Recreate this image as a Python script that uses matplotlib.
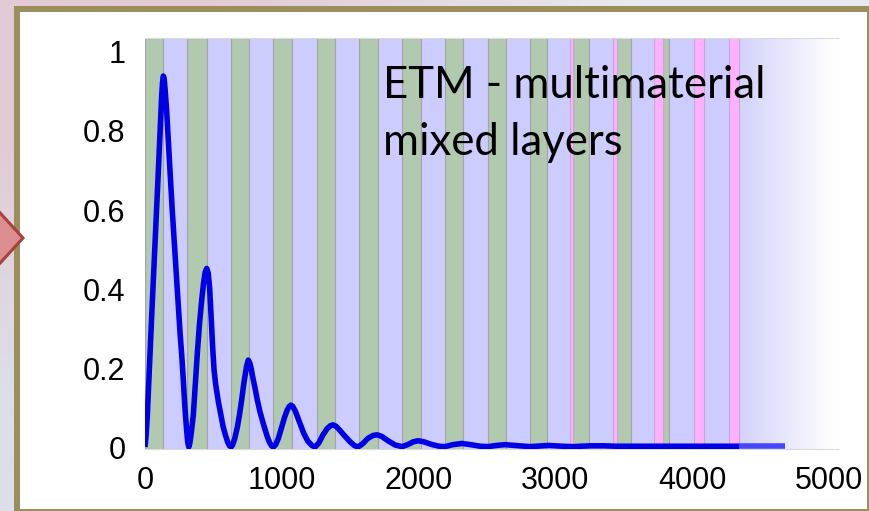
import numpy as np
import matplotlib
matplotlib.use("Agg")
import matplotlib.pyplot as plt
from matplotlib.patches import Rectangle, Polygon
from matplotlib.colors import LinearSegmentedColormap, to_rgb

# ---- data ----
# layer boundaries (thickness axis)
green_start = [0, 307, 629, 936, 1257, 1564, 1879, 2193, 2507, 2814, 3129, 3450, 3786]
green_end = [132, 453, 760, 1075, 1389, 1703, 2018, 2325, 2639, 2939, 3246, 3553, 3830]
pink_start = [3107, 3421, 3721, 4013, 4269]
pink_end = [3129, 3450, 3786, 4086, 4342]
stack_end = 4342

# field intensity along the stack
pos = [0, 8, 17, 27, 37, 50, 62, 73, 85, 95, 105, 115, 122, 128, 134, 140, 147,
       158, 168, 178, 190, 200, 210, 219, 232, 244, 256, 268, 280, 290, 297,
       305, 312, 320,
       328, 338, 353, 368, 383, 398, 414, 428, 440, 451, 462, 472, 482, 495,
       505, 516, 536, 555, 572, 590, 605, 618, 629,
       640, 655, 675, 690, 707, 720, 731, 743, 755, 767, 777, 787, 805, 821,
       840, 860, 877, 895, 910, 925, 938,
       955, 975, 999, 1020, 1040, 1055, 1067, 1080, 1100, 1133, 1160, 1190,
       1220, 1243,
       1270, 1300, 1330, 1355, 1374, 1395, 1420, 1460, 1500, 1530, 1557,
       1590, 1630, 1665, 1696, 1730, 1780, 1830, 1879,
       1920, 1960, 1996, 2040, 2100, 2150, 2193,
       2250, 2317, 2380, 2450, 2507,
       2570, 2632, 2700, 2814,
       2900, 2950, 3050, 3129, 3250, 3350, 3450, 3600, 4000, 4342, 4678]
intensity = [0.0, 0.03, 0.08, 0.16, 0.24, 0.34, 0.43, 0.51, 0.60, 0.68, 0.76,
             0.84, 0.89, 0.922, 0.939, 0.932, 0.905,
             0.853, 0.79, 0.727, 0.655, 0.595, 0.54, 0.49, 0.42, 0.35, 0.29,
             0.235, 0.17, 0.11, 0.075, 0.04, 0.013, 0.0,
             0.01, 0.035, 0.08, 0.16, 0.24, 0.31, 0.37, 0.415, 0.443, 0.452,
             0.44, 0.405, 0.34, 0.25, 0.195, 0.16, 0.115, 0.08, 0.05, 0.028,
             0.012, 0.003, 0.0,
             0.005, 0.02, 0.05, 0.08, 0.12, 0.155, 0.18, 0.205, 0.22, 0.212,
             0.197, 0.178, 0.148, 0.119, 0.09, 0.065, 0.045, 0.025, 0.012,
             0.003, 0.0,
             0.006, 0.022, 0.05, 0.075, 0.094, 0.103, 0.106, 0.103, 0.09, 0.06,
             0.035, 0.015, 0.004, 0.0,
             0.01, 0.03, 0.046, 0.054, 0.056, 0.053, 0.044, 0.028, 0.013, 0.004,
             0.0,
             0.008, 0.022, 0.029, 0.031, 0.027, 0.015, 0.005, 0.001,
             0.006, 0.013, 0.016, 0.013, 0.006, 0.002, 0.001,
             0.006, 0.009, 0.006, 0.002, 0.001,
             0.004, 0.006, 0.004, 0.001,
             0.003, 0.004, 0.002, 0.001, 0.003, 0.003, 0.002, 0.002, 0.002,
             0.002, 0.002]

xticks = [0, 1000, 2000, 3000, 4000, 5000]
yticks = [0, 0.2, 0.4, 0.6, 0.8, 1]
yticklabels = ["0", "0.2", "0.4", "0.6", "0.8", "1"]

fig = plt.figure(figsize=(8.69, 5.11), dpi=100)

# ---- slide background, frame and arrow (pixel coordinates) ----
bg = fig.add_axes([0, 0, 1, 1])
bg.set_xlim(0, 869)
bg.set_ylim(511, 0)
bg.axis("off")
corners = np.array([[to_rgb("#E2CBD5"), to_rgb("#E8EAF2")],
                    [to_rgb("#DCDEE8"), to_rgb("#E8EAF2")]])
bg.imshow(corners, extent=[0, 869, 511, 0], interpolation="bilinear",
          aspect="auto", zorder=0)
bg.add_patch(Rectangle((17, 9), 870 - 17, 512 - 9, facecolor="white",
                       edgecolor="#9B8D5C", lw=4.3, zorder=1))
bg.add_patch(Polygon([(-40, 169), (23, 238), (-40, 307)], closed=True,
                     facecolor="#DA8E90", edgecolor="#A9423F", lw=2.2, zorder=2))

# ---- chart ----
ax = fig.add_axes([145 / 869, (511 - 449) / 511, (838 - 145) / 869, (449 - 38) / 511])
ax.set_facecolor("none")

ymin, ymax = -0.005, 1.0354
ax.axvspan(0, stack_end, color="#CCCCFF", lw=0, zorder=0)
fade = LinearSegmentedColormap.from_list("fade", ["#D2D2FB", "#FFFFFF"])
ax.imshow(np.linspace(0, 1, 256)[None, :], cmap=fade, aspect="auto",
          extent=[stack_end, 5040, ymin, ymax], zorder=0)

for s, e in zip(green_start, green_end):
    ax.axvspan(s, e, facecolor="#B0C9AF", edgecolor="#A3A3A8", lw=0.8, zorder=1)
for s, e in zip(pink_start, pink_end):
    ax.axvspan(s, e, facecolor="#FFB1FF", edgecolor="#C8A8D0", lw=0.8, zorder=1)

pos = np.array(pos)
intensity = np.array(intensity)
inside = pos <= stack_end
outside = pos >= stack_end
ax.plot(pos[outside], intensity[outside], color="#4646FF", lw=4.0,
        solid_capstyle="butt", zorder=3)
ax.plot(pos[inside], intensity[inside], color="#0000E6", lw=4.0,
        solid_capstyle="butt", solid_joinstyle="round", zorder=3)

ax.text(1740, 0.884, "ETM - multimaterial", family="Lato", fontsize=31.5,
        va="baseline", ha="left", zorder=4)
ax.text(1740, 0.739, "mixed layers", family="Lato", fontsize=31.5,
        va="baseline", ha="left", zorder=4)

ax.set_xlim(0, 5066)
ax.set_ylim(ymin, ymax)
ax.set_xticks(xticks)
ax.set_xticklabels([str(t) for t in xticks])
ax.set_yticks(yticks)
ax.set_yticklabels(yticklabels)
ax.tick_params(length=0, labelsize=22, labelcolor="black")
ax.tick_params(axis="y", pad=14)
ax.tick_params(axis="x", pad=12)
for lab in ax.get_xticklabels() + ax.get_yticklabels():
    lab.set_family("Liberation Sans")
for side in ["left", "right"]:
    ax.spines[side].set_visible(False)
for side in ["top", "bottom"]:
    ax.spines[side].set_color("#DADADA")
    ax.spines[side].set_linewidth(0.8)

fig.savefig("out.png", dpi=100)
